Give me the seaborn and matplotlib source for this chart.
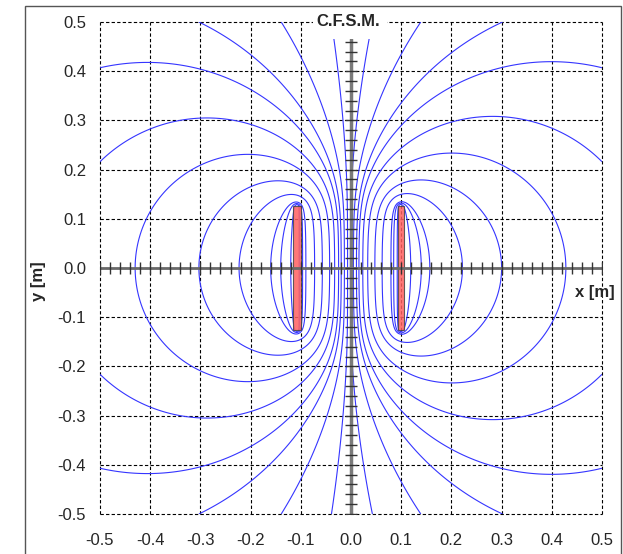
import numpy as np
import matplotlib
matplotlib.use("Agg")
import matplotlib.pyplot as plt
from matplotlib.patches import Rectangle
import seaborn as sns

# conductor plates as drawn (x from, x to, y from, y to) and total current
plate_x0 = [-0.115, 0.093]
plate_x1 = [-0.100, 0.105]
plate_y0 = [-0.127, -0.127]
plate_y1 = [0.127, 0.127]
plate_current = [1.0, -1.0]

# points each field line passes through
line_px = [-0.43, -0.303, -0.223, -0.160, -0.140, -0.120,
           -0.5, -0.5, -0.303, -0.139, -0.034,
           0.428, 0.300, 0.222, 0.157, 0.140, 0.119,
           0.5, 0.5, 0.302, 0.139, 0.036]
line_py = [0, 0, 0, 0, 0, 0,
           0.407, 0.216, 0.5, 0.5, 0.465,
           0, 0, 0, 0, 0, 0,
           0.407, 0.216, 0.5, 0.5, 0.465]

grid_ticks = [-0.5, -0.4, -0.3, -0.2, -0.1, 0.0, 0.1, 0.2, 0.3, 0.4, 0.5]
tick_labels = ["-0.5", "-0.4", "-0.3", "-0.2", "-0.1", "0.0",
               "0.1", "0.2", "0.3", "0.4", "0.5"]

N_CELLS = 120  # filaments per plate


def _h(u, v):
    r2 = np.where(u**2 + v**2 == 0, 1e-30, u**2 + v**2)
    uu = np.where(u == 0, 1e-30, u)
    vv = np.where(v == 0, 1e-30, v)
    return u * v * np.log(r2) - 3 * u * v + u**2 * np.arctan(v / uu) + v**2 * np.arctan(u / vv)


def rect_pot(x, y, x0, x1, y0, y1):
    # mean of ln(r^2) over a uniformly filled rectangle
    s = _h(x - x0, y - y0) - _h(x - x1, y - y0) - _h(x - x0, y - y1) + _h(x - x1, y - y1)
    return s / ((x1 - x0) * (y1 - y0))


# split each plate into filaments and find the current sharing that
# keeps each plate on one flux line
cx0, cx1, cy0, cy1, owner = [], [], [], [], []
for k in range(len(plate_x0)):
    edges = np.linspace(plate_y0[k], plate_y1[k], N_CELLS + 1)
    cx0 += [plate_x0[k]] * N_CELLS
    cx1 += [plate_x1[k]] * N_CELLS
    cy0 += list(edges[:-1])
    cy1 += list(edges[1:])
    owner += [k] * N_CELLS
cx0, cx1, cy0, cy1, owner = map(np.array, (cx0, cx1, cy0, cy1, owner))
xm, ym = (cx0 + cx1) / 2, (cy0 + cy1) / 2

n = len(xm)
npl = len(plate_x0)
M = rect_pot(xm[:, None], ym[:, None], cx0[None, :], cx1[None, :], cy0[None, :], cy1[None, :])
K = np.zeros((n + npl, n + npl))
rhs = np.zeros(n + npl)
K[:n, :n] = M
for k in range(npl):
    mask = (owner == k).astype(float)
    K[:n, n + k] = -mask
    K[n + k, :n] = mask
    rhs[n + k] = plate_current[k]
cur = np.linalg.solve(K, rhs)[:n]


def flux(x, y):
    a = np.zeros_like(x, dtype=float)
    for j in range(n):
        a += cur[j] * np.log((x - xm[j])**2 + (y - ym[j])**2 + 1e-7)
    return a


sns.set_style("white")
plt.rcParams['font.family'] = ['Liberation Sans', 'DejaVu Sans']

fig = plt.figure(figsize=(6.23, 5.54), dpi=100)
ax = fig.add_axes([100 / 623, 40 / 554, 502 / 623, 492 / 554])

xs = np.linspace(-0.5, 0.5, 701)
X, Y = np.meshgrid(xs, xs)
A = flux(X, Y)
levels = np.sort(flux(np.array(line_px, dtype=float), np.array(line_py, dtype=float)))

ax.contour(X, Y, A, levels=levels, colors='#3535ff', linewidths=0.8,
           linestyles='solid', zorder=2)

# dashed grid, including the outer box
for v in grid_ticks:
    ax.axvline(v, color='black', lw=0.8, ls=(0, (3, 2)), zorder=1, clip_on=False)
    ax.axhline(v, color='black', lw=0.8, ls=(0, (3, 2)), zorder=1, clip_on=False)

# plates
for x0, x1, y0, y1 in zip(plate_x0, plate_x1, plate_y0, plate_y1):
    ax.add_patch(Rectangle((x0, y0), x1 - x0, y1 - y0, facecolor='#ff6060',
                           edgecolor='#444444', lw=0.8, alpha=0.85, zorder=3))

# central axes with minor ticks
minor = np.round(np.arange(-0.5, 0.501, 0.02), 2)
ax.plot([-0.5, 0.5], [0, 0], color='#6a6a6a', lw=2, zorder=4)
ax.plot(minor, np.zeros_like(minor), ls='none', marker='|', ms=8, mew=1.0,
        color='#333333', zorder=4)
vminor = minor[minor <= 0.465]
ax.plot([0, 0], [-0.5, 0.465], color='#7a7a7a', lw=2.5, zorder=4)
ax.plot(np.zeros_like(vminor), vminor, ls='none', marker='_', ms=8, mew=1.0,
        color='#333333', zorder=4)

# white box behind the title
ax.add_patch(Rectangle((-0.076, 0.466), 0.148, 0.07, facecolor='white',
                       edgecolor='none', zorder=5, clip_on=False))
ax.text(-0.005, 0.5, "C.F.S.M.", ha='center', va='center', fontsize=12,
        fontweight='bold', zorder=6)

ax.text(0.526, -0.035, "x [m]", ha='right', va='top', fontsize=12,
        fontweight='bold', zorder=6, clip_on=False)
fig.text(38.5 / 623, 1 - 281 / 554, "y [m]", rotation=90, ha='center',
         va='center', fontsize=12, fontweight='bold')

ax.set_xlim(-0.5, 0.5)
ax.set_ylim(-0.5, 0.5)
ax.set_xticks(grid_ticks)
ax.set_xticklabels(tick_labels)
ax.set_yticks(grid_ticks)
ax.set_yticklabels(tick_labels)
ax.tick_params(axis='x', length=0, pad=14, labelsize=12)
ax.tick_params(axis='y', length=0, pad=10, labelsize=12)
for s in ax.spines.values():
    s.set_visible(False)

# outer chart frame
fig.patches.append(Rectangle((25 / 623, -0.01), 596 / 623, 1 - 6 / 554 + 0.01,
                             transform=fig.transFigure, fill=False,
                             edgecolor='#555555', lw=1))

fig.savefig("out.png", dpi=100)
